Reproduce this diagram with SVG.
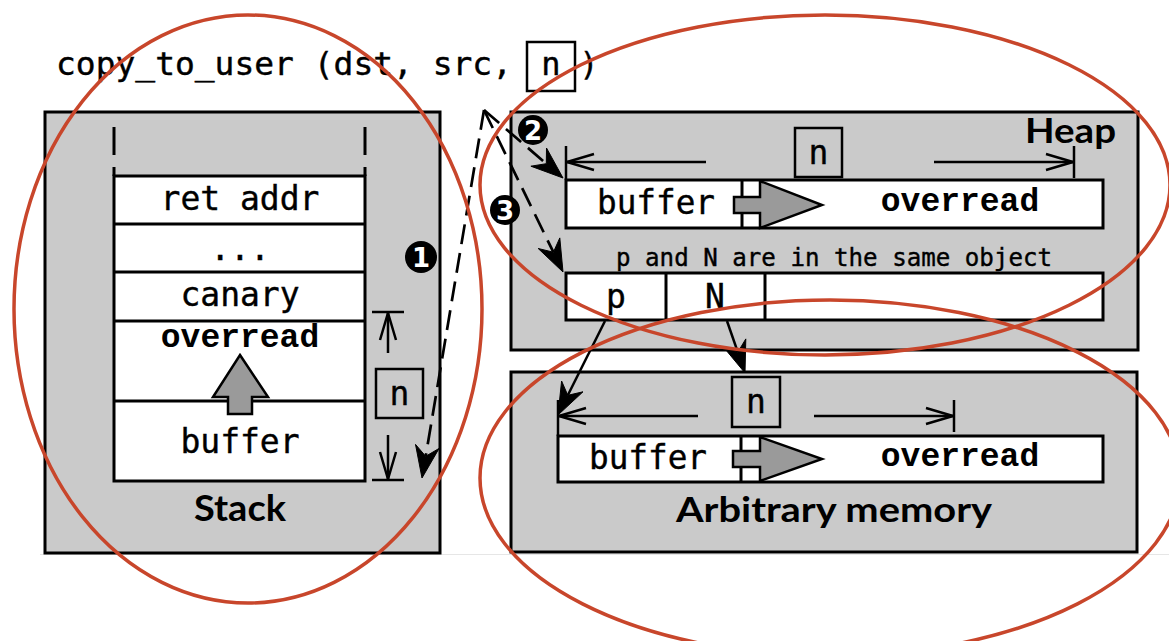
<svg xmlns="http://www.w3.org/2000/svg" width="1169" height="641" viewBox="0 0 1169 641">
  <style>
    .box { fill: #cacaca; stroke: #000; stroke-width: 3; }
    .cell { fill: #fff; stroke: #000; stroke-width: 3; }
    .ln { fill: none; stroke: #000; stroke-width: 3; }
    .dim { fill: none; stroke: #000; stroke-width: 2.5; }
    .flow { fill: #9a9a9a; stroke: #000; stroke-width: 2.5; stroke-linejoin: miter; }
    .mono { font-family: "DejaVu Sans Mono", "Liberation Mono", monospace; fill: #000; stroke: #000; stroke-width: 0.4; }
    .mono-b { font-family: "Liberation Mono", "DejaVu Sans Mono", monospace; font-weight: bold; fill: #000; }
    .title { font-family: "Lato", "Liberation Sans", sans-serif; font-weight: bold; fill: #000; }
    .badge { fill: #000; }
    .badge-t { font-family: "DejaVu Sans", sans-serif; font-weight: bold; font-size: 26px; fill: #fff; text-anchor: middle; }
    .dash { fill: none; stroke: #000; stroke-width: 2.7; stroke-dasharray: 20 9; }
    .solid { fill: none; stroke: #000; stroke-width: 2.5; }
    .head { fill: #000; stroke: #000; stroke-width: 1; stroke-linejoin: miter; }
    .ring { fill: none; stroke: #c8462b; stroke-width: 3.5; }
  </style>
  <defs>
    <marker id="open" markerUnits="userSpaceOnUse" markerWidth="32" markerHeight="22" refX="0" refY="0" viewBox="-30 -11 32 22" orient="auto">
      <path d="M-27,-8 L0,0 L-27,8" fill="none" stroke="#000" stroke-width="2.5"/>
    </marker>
  </defs>

  <rect width="1169" height="641" fill="#fff"/>
  <line x1="40" y1="554.5" x2="1169" y2="554.5" stroke="#e6e6e6" stroke-width="1"/>

  <!-- call signature -->
  <g id="call">
    <text class="mono" x="56" y="75" font-size="32" textLength="456" lengthAdjust="spacingAndGlyphs">copy_to_user (dst, src,</text>
    <rect x="527" y="42" width="48" height="49" fill="none" stroke="#000" stroke-width="2.5"/>
    <text class="mono" x="551" y="75" font-size="32" text-anchor="middle">n</text>
    <text class="mono" x="589" y="75" font-size="32" text-anchor="middle">)</text>
  </g>

  <!-- stack frame -->
  <g id="stack">
    <rect class="box" x="45" y="112" width="395" height="441"/>
    <line class="ln" x1="114" y1="127" x2="114" y2="155"/>
    <line class="ln" x1="365" y1="127" x2="365" y2="155"/>
    <line class="ln" x1="114" y1="167" x2="114" y2="176"/>
    <line class="ln" x1="365" y1="167" x2="365" y2="176"/>
    <rect class="cell" x="114" y="176" width="251" height="305"/>
    <line class="ln" x1="114" y1="224" x2="365" y2="224"/>
    <line class="ln" x1="114" y1="272" x2="365" y2="272"/>
    <line class="ln" x1="114" y1="321" x2="365" y2="321"/>
    <line class="ln" x1="114" y1="401" x2="365" y2="401"/>
    <text class="mono" x="240" y="210" font-size="33" text-anchor="middle">ret addr</text>
    <text class="mono" x="240" y="260" font-size="33" text-anchor="middle">...</text>
    <text class="mono" x="240" y="306" font-size="33" text-anchor="middle">canary</text>
    <text class="mono-b" x="240" y="347" font-size="33" text-anchor="middle">overread</text>
    <text class="mono" x="240" y="453" font-size="33" text-anchor="middle">buffer</text>
    <polygon class="flow" points="240,355 268,397 252,397 252,414 228,414 228,397 213,397"/>
    <!-- size span n -->
    <line class="dim" x1="372" y1="312" x2="404" y2="312"/>
    <line class="dim" x1="372" y1="480" x2="404" y2="480"/>
    <line class="dim" x1="388" y1="353" x2="388" y2="313" marker-end="url(#open)"/>
    <line class="dim" x1="388" y1="435" x2="388" y2="479" marker-end="url(#open)"/>
    <rect x="376" y="369" width="47" height="49" fill="none" stroke="#000" stroke-width="2.5"/>
    <text class="mono" x="399.5" y="405" font-size="33" text-anchor="middle">n</text>
    <text class="title" x="194" y="521" font-size="36" textLength="92" lengthAdjust="spacingAndGlyphs">Stack</text>
  </g>

  <!-- heap -->
  <g id="heap">
    <rect class="box" x="511" y="112" width="627" height="238"/>
    <text class="title" x="1025" y="143" font-size="34" textLength="91" lengthAdjust="spacingAndGlyphs">Heap</text>
    <rect x="795" y="128" width="47" height="49" fill="none" stroke="#000" stroke-width="2.5"/>
    <text class="mono" x="818.5" y="164" font-size="33" text-anchor="middle">n</text>
    <line class="dim" x1="566" y1="146" x2="566" y2="180"/>
    <line class="dim" x1="1074" y1="146" x2="1074" y2="178"/>
    <line class="dim" x1="706" y1="162" x2="567" y2="162" marker-end="url(#open)"/>
    <line class="dim" x1="934" y1="162" x2="1073" y2="162" marker-end="url(#open)"/>
    <rect class="cell" x="566" y="180" width="537" height="48"/>
    <line class="ln" x1="742" y1="180" x2="742" y2="197"/>
    <line class="ln" x1="742" y1="213" x2="742" y2="228"/>
    <polygon class="flow" points="734,197 760,197 760,181 822,205 760,228 760,213 734,213"/>
    <text class="mono" x="656" y="214" font-size="33" text-anchor="middle" textLength="118" lengthAdjust="spacingAndGlyphs">buffer</text>
    <text class="mono-b" x="960" y="211" font-size="33" text-anchor="middle">overread</text>
    <text class="mono" x="834" y="266" font-size="24" text-anchor="middle" textLength="436" lengthAdjust="spacingAndGlyphs">p and N are in the same object</text>
    <rect class="cell" x="566" y="273" width="537" height="47"/>
    <line class="ln" x1="666" y1="273" x2="666" y2="320"/>
    <line class="ln" x1="765" y1="273" x2="765" y2="320"/>
    <text class="mono" x="616" y="308" font-size="33" text-anchor="middle">p</text>
    <text class="mono" x="715" y="308" font-size="33" text-anchor="middle">N</text>
  </g>

  <!-- arbitrary memory -->
  <g id="arbitrary">
    <rect class="box" x="511" y="372" width="626" height="180"/>
    <rect x="732" y="377" width="48" height="50" fill="none" stroke="#000" stroke-width="2.5"/>
    <text class="mono" x="756" y="413" font-size="33" text-anchor="middle">n</text>
    <line class="dim" x1="558" y1="400" x2="558" y2="436"/>
    <line class="dim" x1="954" y1="400" x2="954" y2="432"/>
    <line class="dim" x1="698" y1="416" x2="559" y2="416" marker-end="url(#open)"/>
    <line class="dim" x1="814" y1="416" x2="953" y2="416" marker-end="url(#open)"/>
    <rect class="cell" x="558" y="436" width="545" height="46"/>
    <line class="ln" x1="741" y1="436" x2="741" y2="451"/>
    <line class="ln" x1="741" y1="467" x2="741" y2="482"/>
    <polygon class="flow" points="733,451 760,451 760,437 822,459 760,481 760,467 733,467"/>
    <text class="mono" x="648" y="469" font-size="33" text-anchor="middle" textLength="118" lengthAdjust="spacingAndGlyphs">buffer</text>
    <text class="mono-b" x="960" y="466" font-size="33" text-anchor="middle">overread</text>
    <text class="title" x="676" y="522" font-size="35" textLength="316" lengthAdjust="spacingAndGlyphs">Arbitrary memory</text>
  </g>

  <!-- connectors: dashed size flows from n, solid pointer flows from p and N -->
  <g id="connectors">
    <path class="dash" d="M484,110 L425.7,456.3"/>
    <path class="dash" d="M484,110 L546.3,163.7"/>
    <path class="dash" d="M484,110 L553.4,252.2"/>
    <path class="solid" d="M605,321 L567.8,395.3"/>
    <path class="solid" d="M727,321 L737.8,352.2"/>
    <polygon class="head" points="422,478 415.5,444.4 425.7,456.3 439.1,448.4"/>
    <polygon class="head" points="563,178 530.9,166.2 546.3,163.7 546.5,148.0"/>
    <polygon class="head" points="563,272 538.2,248.5 553.4,252.2 559.8,237.9"/>
    <polygon class="head" points="558,415 561.6,381.0 567.8,395.3 583.0,391.8"/>
    <polygon class="head" points="745,373 723.2,346.7 737.8,352.2 745.8,338.9"/>
  </g>

  <!-- step badges -->
  <g id="step-1">
    <circle class="badge" cx="421" cy="257" r="16"/>
    <text class="badge-t" x="421" y="266.5">1</text>
  </g>
  <g id="step-2">
    <circle class="badge" cx="533" cy="130" r="15"/>
    <text class="badge-t" x="533" y="139.5">2</text>
  </g>
  <g id="step-3">
    <circle class="badge" cx="505" cy="210" r="15"/>
    <text class="badge-t" x="505" y="219.5">3</text>
  </g>

  <!-- highlight rings -->
  <g id="rings">
    <ellipse class="ring" cx="248" cy="309" rx="234" ry="294"/>
    <ellipse class="ring" cx="825" cy="185" rx="345" ry="170"/>
    <ellipse class="ring" cx="830" cy="478" rx="350" ry="178"/>
  </g>
</svg>
